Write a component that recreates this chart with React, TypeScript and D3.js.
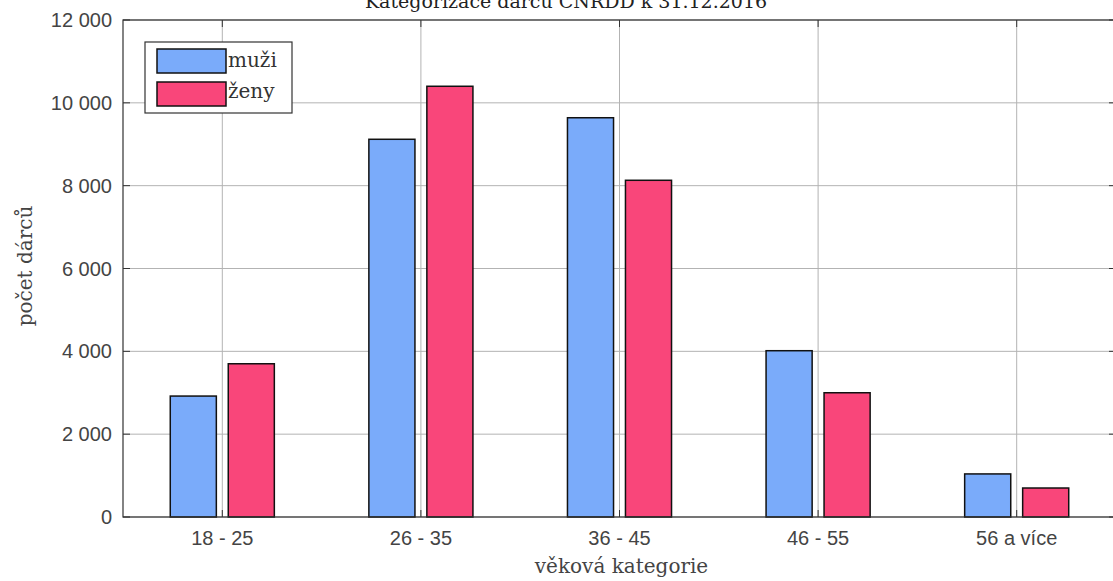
import React from "react";
import * as d3 from "d3";

const categories = ["18 - 25", "26 - 35", "36 - 45", "46 - 55", "56 a více"];
const muzi = [2920, 9120, 9640, 4015, 1040];
const zeny = [3700, 10400, 8130, 3000, 700];
const yTicks = [0, 2000, 4000, 6000, 8000, 10000, 12000];
const seriesNames = ["muži", "ženy"];
const title = "Kategorizace dárců ČNRDD k 31.12.2016";

const W = 1113, H = 581;
const L = 123, R = 1116, T = 20, B = 517;
const BLUE = "#7aabfa";
const PINK = "#f9467a";

export default function App() {
  const x = d3.scaleLinear().domain([0.5, categories.length + 0.5]).range([L, R]);
  const y = d3.scaleLinear().domain([0, 12000]).range([B, T]);
  const fmt = (v: number) => d3.format(",")(v).replace(/,/g, " ");
  const bw = 0.232;
  const off = 0.146;
  const serif = "'DejaVu Serif', 'Liberation Serif', serif";
  const sans = "'Liberation Sans', Arial, sans-serif";
  const series = [muzi, zeny];
  const colors = [BLUE, PINK];
  return (
    <svg width={W} height={H} style={{ position: "absolute", left: 0, top: 0, background: "#fff" }}>
      <rect x={0} y={0} width={W} height={H} fill="#fff" />
      <text x={566} y={8} textAnchor="middle" fontFamily={serif} fontSize={19} fill="#222">{title}</text>
      {/* grid */}
      {yTicks.map((t) => (
        <line key={"gy" + t} x1={L} x2={R} y1={y(t)} y2={y(t)} stroke="#b3b3b3" strokeWidth={1} />
      ))}
      {categories.map((c, i) => (
        <line key={"gx" + i} x1={x(i + 1)} x2={x(i + 1)} y1={T} y2={B} stroke="#b3b3b3" strokeWidth={1} />
      ))}
      {/* bars */}
      {series.map((s, si) =>
        s.map((v, i) => {
          const cx = x(i + 1) + (si === 0 ? -off : off) * (x(1) - x(0));
          const w = bw * (x(1) - x(0));
          return (
            <rect key={si + "-" + i} x={cx - w / 2} y={y(v)} width={w} height={y(0) - y(v)}
              fill={colors[si]} stroke="#111" strokeWidth={1.5} />
          );
        })
      )}
      {/* axes box */}
      <rect x={L} y={T} width={R - L} height={B - T} fill="none" stroke="#333" strokeWidth={1.2} />
      {yTicks.map((t) => (
        <g key={"yt" + t}>
          <line x1={L} x2={L + 7} y1={y(t)} y2={y(t)} stroke="#333" />
          <line x1={R} x2={R - 7} y1={y(t)} y2={y(t)} stroke="#333" />
          <text x={112} y={y(t) + 7} textAnchor="end" fontFamily={sans} fontSize={20} fill="#444">{fmt(t)}</text>
        </g>
      ))}
      {categories.map((c, i) => (
        <g key={"xt" + i}>
          <line x1={x(i + 1)} x2={x(i + 1)} y1={B} y2={B - 7} stroke="#333" />
          <line x1={x(i + 1)} x2={x(i + 1)} y1={T} y2={T + 7} stroke="#333" />
          <text x={x(i + 1)} y={545} textAnchor="middle" fontFamily={sans} fontSize={20} fill="#444">{c}</text>
        </g>
      ))}
      <text x={(L + R) / 2 + 2} y={573} textAnchor="middle" fontFamily={serif} fontSize={20} fill="#444">věková kategorie</text>
      <text transform={`translate(32, 266) rotate(-90)`} textAnchor="middle" fontFamily={serif} fontSize={20} fill="#444">počet dárců</text>
      {/* legend */}
      <rect x={145} y={42} width={147} height={71} fill="#fff" stroke="#333" strokeWidth={1.2} />
      {seriesNames.map((n, i) => (
        <g key={n}>
          <rect x={157} y={49 + i * 33} width={69} height={24} fill={colors[i]} stroke="#111" strokeWidth={1.5} />
          <text x={228} y={67 + i * 31} fontFamily={serif} fontSize={20} fill="#333">{n}</text>
        </g>
      ))}
    </svg>
  );
}
